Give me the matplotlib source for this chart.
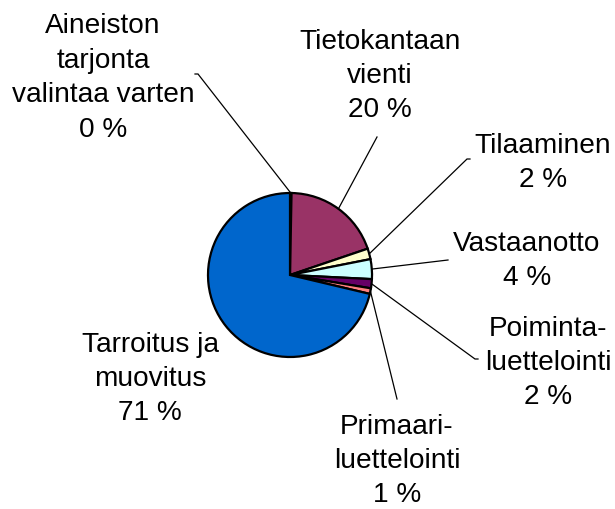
import numpy as np
import matplotlib
matplotlib.use("Agg")
import matplotlib.pyplot as plt

plt.rcParams["font.family"] = ["Liberation Sans", "DejaVu Sans"]

# data (clockwise from 12 o'clock)
labels = ["Aineiston\ntarjonta\nvalintaa varten", "Tietokantaan\nvienti", "Tilaaminen",
          "Vastaanotto", "Poiminta-\nluettelointi", "Primaari-\nluettelointi",
          "Tarroitus ja\nmuovitus"]
shares = [0.3, 19.5, 2.1, 3.9, 1.8, 1.1, 71.3]
colors = ["#9999FF", "#993366", "#FFFFCC", "#CCFFFF", "#660066", "#FF8080", "#0066CC"]

# layout in pixel coords (y from top)
W, H = 615, 510
CX, CY, R = 290, 276, 82
text_xy = [(103, 78), (380, 76), (543, 163), (527, 261), (548, 363), (397, 461), (150, 379)]
leader_end = [(198, 75), (377, 138), (467, 160), (448, 261), (475, 360), (397, 400), None]
hook_dx = [-3, 0, 3, 0, 3, 0, 0]

fig = plt.figure(figsize=(W / 100, H / 100), dpi=100)
ax = fig.add_axes([0, 0, 1, 1])

wedges, _ = ax.pie(shares, colors=colors, startangle=90, counterclock=False,
                   center=(CX, H - CY), radius=R,
                   wedgeprops=dict(edgecolor="black", linewidth=1.6))
ax.set_xlim(0, W)
ax.set_ylim(0, H)
ax.set_aspect("equal")
ax.axis("off")

for w, lab, v, (tx, ty), end, hd in zip(wedges, labels, shares, text_xy, leader_end, hook_dx):
    ax.text(tx, H - ty, f"{lab}\n{v:.0f} %", ha="center", va="center",
            multialignment="center", fontsize=20.2, linespacing=1.42, color="black")
    if end is None:
        continue
    mid = np.deg2rad((w.theta1 + w.theta2) / 2)
    sx, sy = CX + R * np.cos(mid), H - CY + R * np.sin(mid)
    ex, ey = end[0], H - end[1]
    ax.plot([sx, ex, ex + hd], [sy, ey, ey], color="black", lw=0.9,
            solid_joinstyle="miter")

fig.savefig("out.png", dpi=100)
